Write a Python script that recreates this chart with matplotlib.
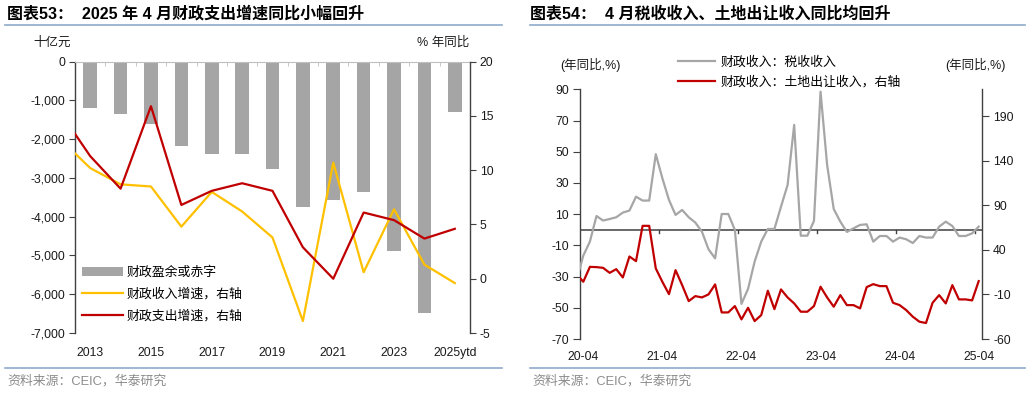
import numpy as np
import pandas as pd
import matplotlib
matplotlib.use("Agg")
import matplotlib.pyplot as plt
from matplotlib.patches import Patch
from matplotlib.lines import Line2D
from matplotlib.ticker import FuncFormatter

plt.rcParams['font.family'] = ['Liberation Sans', 'Noto Sans CJK SC', 'DejaVu Sans']
plt.rcParams['axes.unicode_minus'] = False

# ---------------- data: chart 53 ----------------
years = ['2012', '2013', '2014', '2015', '2016', '2017', '2018', '2019', '2020',
         '2021', '2022', '2023', '2024', '2025ytd']
deficit = [np.nan, -1200, -1350, -1620, -2180, -2380, -2380, -2760, -3760,
           -3580, -3370, -4880, -6490, -1300]
rev_growth = [12.9, 10.2, 8.7, 8.5, 4.8, 8.0, 6.2, 3.8, -3.9, 10.7, 0.6, 6.4, 1.3, -0.4]
exp_growth = [15.4, 11.3, 8.3, 15.9, 6.8, 8.1, 8.8, 8.1, 2.9, 0.0, 6.1, 5.4, 3.7, 4.6]

# ---------------- data: chart 54 ----------------
months = pd.period_range('2020-03', '2025-04', freq='M')
tax_yoy = [-32.0, -16.6, -7.6, 8.8, 5.9, 6.9, 8.0, 11.0, 12.3, 21.2, 18.7, 18.7, 48.4,
           33.0, 19.1, 9.5, 12.7, 8.0, 4.6, -1.2, -12.5, -18.3, 10.1, 10.1, -0.1,
           -47.5, -37.9, -20.4, -7.6, 0.5, 0.5, 14.8, 28.7, 67.2, -3.8, -3.8, 5.6,
           88.5, 41.5, 13.3, 5.2, -1.4, 0.9, 3.1, 3.5, -7.6, -4.0, -4.0, -7.6,
           -5.0, -6.1, -8.5, -4.0, -5.0, -5.0, 2.0, 5.2, 2.4, -4.0, -4.0, -2.3, 2.0]
land_yoy = [12.3, 4.2, 20.9, 20.6, 19.8, 14.2, 18.3, 9.0, 32.5, 27.3, 66.9, 66.9, 19.1,
            4.1, -9.7, 17.2, 0.4, -17.5, -11.9, -13.4, -10.0, 1.2, -30.2, -30.2, -23.1,
            -38.0, -25.0, -39.9, -33.2, -5.9, -26.5, -4.4, -13.4, -20.1, -29.4, -29.4,
            -23.1, -1.4, -13.4, -23.8, -10.8, -22.0, -22.0, -25.7, -1.8, 1.5, -0.7,
            -0.7, -19.4, -22.0, -27.6, -35.0, -40.6, -42.1, -19.4, -10.8, -20.1, 0.4,
            -15.6, -15.6, -16.7, 4.9]

GREY_BAR = '#A5A5A5'
YELLOW = '#FFC000'
RED = '#C00000'
GREY_LINE = '#A6A6A6'
SPINE = '#404040'
BLUE_RULE = '#8EAACB'
TXT = '#1a1a1a'
FS = 8.7

W, H = 1030, 393
fig = plt.figure(figsize=(W / 100, H / 100), dpi=100)

def fx(px):
    return px / W

def fy(py):
    return 1 - py / H

# ---------------- headers / footers ----------------
fig.text(fx(7), fy(14), '图表53：  2025 年 4 月财政支出增速同比小幅回升', fontsize=11.5,
         fontweight='bold', ha='left', va='center', color='black')
fig.text(fx(530), fy(14), '图表54：  4 月税收收入、土地出让收入同比均回升', fontsize=11.5,
         fontweight='bold', ha='left', va='center', color='black')
for x0, x1 in [(5, 502), (530, 1025)]:
    for yy in (25, 368):
        fig.add_artist(Line2D([fx(x0), fx(x1)], [fy(yy), fy(yy)], color=BLUE_RULE, lw=1.2))
fig.text(fx(7), fy(381), '资料来源：CEIC，华泰研究', fontsize=9.3, color='#8c8c8c',
         ha='left', va='center')
fig.text(fx(532), fy(381), '资料来源：CEIC，华泰研究', fontsize=9.3, color='#8c8c8c',
         ha='left', va='center')

# ---------------- chart 53 ----------------
ax = fig.add_axes([fx(75), fy(333), fx(470 - 75), fy(61.7) - fy(333)])
xpos = np.arange(len(years)) - 1
ax.bar(xpos, deficit, width=0.45, color=GREY_BAR, zorder=2)
ax.set_xlim(-0.5, 12.5)
ax.set_ylim(-7000, 0)
ax.set_yticks(np.arange(-7000, 1, 1000))
ax.yaxis.set_major_formatter(FuncFormatter(lambda v, p: f'{int(v):,}'))
ax.set_xticks(xpos[1::2])
ax.set_xticklabels(years[1::2])
ax.set_xticks(np.arange(0.5, 12, 1), minor=True)
ax.tick_params(axis='x', which='major', length=0, pad=10, labelsize=FS, colors=TXT)
ax.tick_params(axis='x', which='minor', bottom=False, top=True, direction='in',
               length=3, color='#BFBFBF')
ax.tick_params(axis='y', length=4, color=SPINE, labelsize=FS, colors=TXT, pad=3)
for s in ['bottom', 'right']:
    ax.spines[s].set_visible(False)
ax.spines['top'].set_color('#BFBFBF')
ax.spines['top'].set_linewidth(0.8)
ax.spines['left'].set_color(SPINE)
ax.spines['left'].set_linewidth(1.0)

ax2 = ax.twinx()
ax2.plot(xpos, rev_growth, color=YELLOW, lw=1.6, zorder=3)
ax2.plot(xpos, exp_growth, color=RED, lw=1.6, zorder=4)
ax2.set_ylim(-5, 20)
ax2.set_yticks(np.arange(-5, 21, 5))
ax2.tick_params(axis='y', length=4, color=SPINE, labelsize=FS, colors=TXT, pad=3)
for s in ['bottom', 'left', 'top']:
    ax2.spines[s].set_visible(False)
ax2.spines['right'].set_color(SPINE)
ax2.spines['right'].set_linewidth(1.0)

handles = [Patch(facecolor=GREY_BAR, edgecolor='none'),
           Line2D([], [], color=YELLOW, lw=1.6),
           Line2D([], [], color=RED, lw=1.6)]
labels = ['财政盈余或赤字', '财政收入增速，右轴', '财政支出增速，右轴']
ax2.legend(handles, labels, loc='lower left', bbox_to_anchor=(0.01, 0.03),
           frameon=False, fontsize=9.3, handlelength=3.2, handleheight=0.6,
           handletextpad=0.3, labelspacing=0.7, borderaxespad=0, borderpad=0.2)

fig.text(fx(52), fy(43), '十亿元', fontsize=9, ha='center', va='center', color=TXT)
fig.text(fx(443), fy(43), '% 年同比', fontsize=9, ha='center', va='center', color=TXT)

# ---------------- chart 54 ----------------
ax3 = fig.add_axes([fx(580), fy(339), fx(982 - 580), fy(89.3) - fy(339)])
mx = np.arange(len(months)) - 1
ax3.plot(mx, tax_yoy, color=GREY_LINE, lw=1.6, zorder=3)
ax3.axhline(0, color='#404040', lw=1.1, zorder=2)
ax3.set_xlim(-0.5, 60.5)
ax3.set_ylim(-70, 90)
ax3.set_yticks(np.arange(-70, 91, 20))
lab_idx = [i for i, m in enumerate(months) if m.month == 4]
ax3.set_xticks(mx[lab_idx])
ax3.set_xticklabels([f'{m.year % 100:02d}-04' for m in months[lab_idx]])
ax3.tick_params(axis='x', length=0, pad=9, labelsize=FS, colors=TXT)
ax3.tick_params(axis='y', length=5, color=SPINE, labelsize=FS, colors=TXT, pad=3)
for s in ['bottom', 'right', 'top']:
    ax3.spines[s].set_visible(False)
ax3.spines['left'].set_color(SPINE)
ax3.spines['left'].set_linewidth(1.0)
# year-boundary tick marks on the zero line
for b in np.arange(11.5, 60, 12):
    ax3.plot([b, b], [0, -2.2], color='#404040', lw=1.0, zorder=2)

ax4 = ax3.twinx()
ax4.plot(mx, land_yoy, color=RED, lw=1.6, zorder=4)
ax4.set_ylim(-60, 220)
ax4.set_yticks(np.arange(-60, 191, 50))
ax4.tick_params(axis='y', length=5, color=SPINE, labelsize=FS, colors=TXT, pad=3)
for s in ['bottom', 'left', 'top']:
    ax4.spines[s].set_visible(False)
ax4.spines['right'].set_color(SPINE)
ax4.spines['right'].set_linewidth(1.0)

h2 = [Line2D([], [], color=GREY_LINE, lw=1.6), Line2D([], [], color=RED, lw=1.6)]
l2 = ['财政收入：税收收入', '财政收入：土地出让收入，右轴']
ax4.legend(h2, l2, loc='upper left', bbox_to_anchor=(fx(678), fy(56)),
           bbox_transform=fig.transFigure, frameon=False, fontsize=9.3,
           handlelength=2.9, handletextpad=0.4, labelspacing=0.6,
           borderaxespad=0, borderpad=0)

fig.text(fx(590), fy(65), '(年同比,%)', fontsize=9, ha='center', va='center', color=TXT)
fig.text(fx(975), fy(65), '(年同比,%)', fontsize=9, ha='center', va='center', color=TXT)

fig.savefig('out.png', dpi=100)
